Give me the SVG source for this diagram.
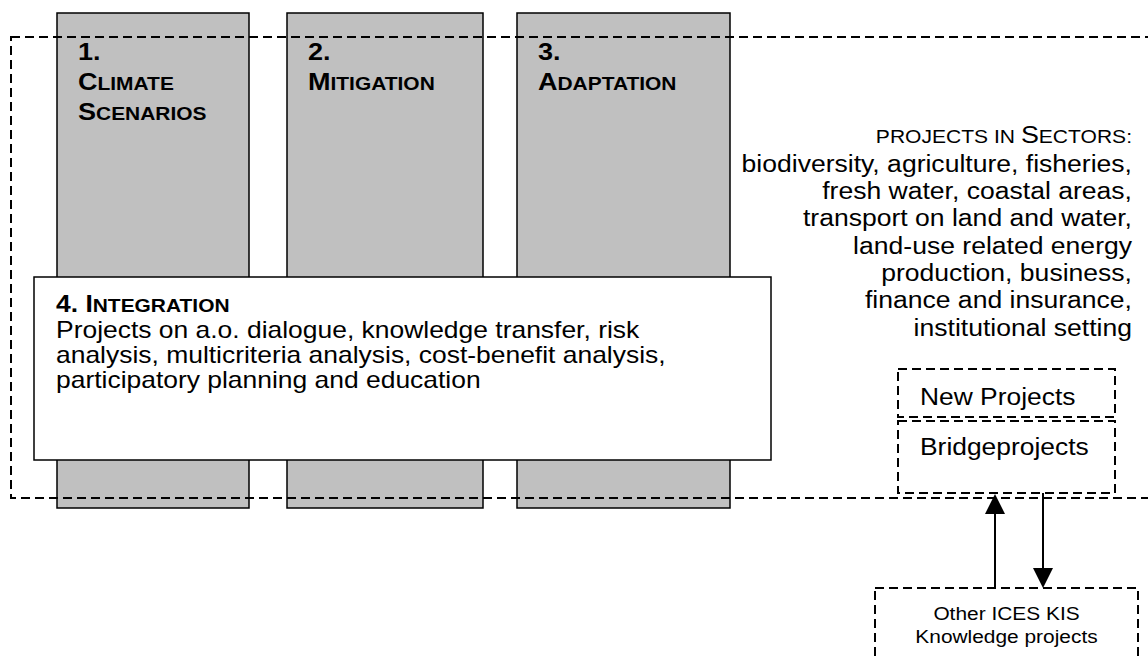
<svg xmlns="http://www.w3.org/2000/svg" width="1148" height="657" viewBox="0 0 1148 657">
<style>
.col{fill:#c0c0c0;stroke:#000;stroke-width:1.5}
.box{fill:#fff;stroke:#000;stroke-width:1.5}
.dash{fill:none;stroke:#000;stroke-width:2;stroke-dasharray:9 5}
.t{font-family:"Liberation Sans",Arial,sans-serif;fill:#000}
.b{font-weight:bold}
.conn{stroke:#000;stroke-width:2;fill:none}
</style>
<defs>
<marker id="ah" viewBox="0 0 20 20" refX="10" refY="10" markerWidth="20" markerHeight="20" markerUnits="userSpaceOnUse" orient="auto">
<path d="M0,0 L20,10 L0,20 z" fill="#000"/>
</marker>
</defs>
<rect width="1148" height="657" fill="#fff"/>

<g id="col1">
<rect class="col" x="57" y="13" width="192" height="495"/>
<g transform="translate(78,0) scale(1.15,1)">
<text class="t b" x="0" y="60" font-size="23.5">1.</text>
<text class="t b" x="0" y="90"><tspan font-size="23.5">C</tspan><tspan font-size="18.2">LIMATE</tspan></text>
<text class="t b" x="0" y="120"><tspan font-size="23.5">S</tspan><tspan font-size="18.2">CENARIOS</tspan></text>
</g>
</g>

<g id="col2">
<rect class="col" x="287" y="13" width="196" height="495"/>
<g transform="translate(308,0) scale(1.15,1)">
<text class="t b" x="0" y="60" font-size="23.5">2.</text>
<text class="t b" x="0" y="90"><tspan font-size="23.5">M</tspan><tspan font-size="18.2">ITIGATION</tspan></text>
</g>
</g>

<g id="col3">
<rect class="col" x="517" y="13" width="213" height="495"/>
<g transform="translate(538,0) scale(1.15,1)">
<text class="t b" x="0" y="60" font-size="23.5">3.</text>
<text class="t b" x="0" y="90"><tspan font-size="23.5">A</tspan><tspan font-size="18.2">DAPTATION</tspan></text>
</g>
</g>

<g id="frame">
<rect class="dash" x="11" y="37" width="1200" height="461"/>
</g>

<g id="integration">
<rect class="box" x="34" y="277" width="737" height="183"/>
<g transform="translate(56,0) scale(1.15,1)">
<text class="t b" x="0" y="312"><tspan font-size="23">4. I</tspan><tspan font-size="18.2">NTEGRATION</tspan></text>
<text class="t" font-size="23" x="0" y="338">Projects on a.o. dialogue, knowledge transfer, risk</text>
<text class="t" font-size="23" x="0" y="363">analysis, multicriteria analysis, cost-benefit analysis,</text>
<text class="t" font-size="23" x="0" y="388">participatory planning and education</text>
</g>
</g>

<g id="sectors">
<g transform="translate(1132,0) scale(1.17,1)">
<text class="t" x="0" y="143" text-anchor="end"><tspan font-size="18">PROJECTS IN </tspan><tspan font-size="23">S</tspan><tspan font-size="18">ECTORS:</tspan></text>
</g>
<g transform="translate(1132,0) scale(1.13,1)">
<text class="t" font-size="23.5" x="0" y="172" text-anchor="end">biodiversity, agriculture, fisheries,</text>
<text class="t" font-size="23.5" x="0" y="199" text-anchor="end">fresh water, coastal areas,</text>
<text class="t" font-size="23.5" x="0" y="226.5" text-anchor="end">transport on land and water,</text>
<text class="t" font-size="23.5" x="0" y="254" text-anchor="end">land-use related energy</text>
<text class="t" font-size="23.5" x="0" y="281" text-anchor="end">production, business,</text>
<text class="t" font-size="23.5" x="0" y="308.5" text-anchor="end">finance and insurance,</text>
<text class="t" font-size="23.5" x="0" y="336" text-anchor="end">institutional setting</text>
</g>
</g>

<g id="newprojects">
<rect class="dash" x="898" y="369" width="217" height="48"/>
<g transform="translate(920,0) scale(1.1,1)">
<text class="t" font-size="24" x="0" y="405">New Projects</text>
</g>
</g>

<g id="bridgeprojects">
<rect class="dash" x="898" y="421" width="217" height="72"/>
<g transform="translate(920,0) scale(1.1,1)">
<text class="t" font-size="24" x="0" y="455">Bridgeprojects</text>
</g>
</g>

<g id="other">
<rect class="dash" x="875" y="588" width="263" height="100"/>
<g transform="translate(1006.5,0) scale(1.13,1)">
<text class="t" font-size="18.5" x="0" y="620" text-anchor="middle">Other ICES KIS</text>
<text class="t" font-size="18.5" x="0" y="643" text-anchor="middle">Knowledge projects</text>
</g>
</g>

<g id="connectors">
<line class="conn" x1="995" y1="588" x2="995" y2="504" marker-end="url(#ah)"/>
<line class="conn" x1="1043" y1="493" x2="1043" y2="578" marker-end="url(#ah)"/>
</g>
</svg>
